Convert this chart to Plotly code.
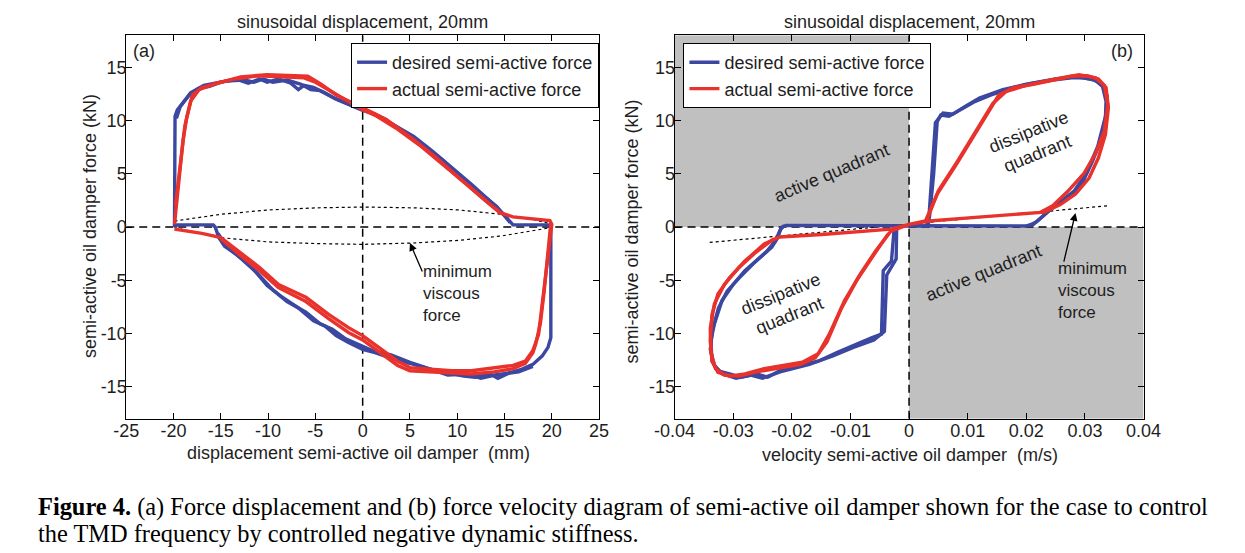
import plotly.graph_objects as go

# ---------------- data ----------------
series_names = ["desired semi-active force", "actual semi-active force"]
panel_title = "sinusoidal displacement, 20mm"

# (a) force - displacement, desired (blue), cycle 1
a_blue_x = [-19.9, -19.85, -19.84, -19.6, -19.0, -18.4, -17.4, -16.2, -15.0, -13.3, -12.1, -10.9, -10.1, -8.9, -7.6, -6.8, -6.2, -5.2, -4.0, -2.8, -1.5, 0.0, 1.3, 3.3, 5.4, 7.4, 9.4, 11.5, 13.5, 14.9, 15.9, 19.6, 19.9, 19.92, 19.9, 19.6, 19.0, 18.0, 16.7, 15.5, 14.3, 13.5, 11.9, 10.7, 9.4, 7.8, 5.4, 3.3, 1.3, 0.0, -1.5, -2.8, -4.0, -5.2, -6.8, -8.5, -10.1, -11.7, -13.3, -14.6, -15.2, -15.6, -15.8, -19.6, -19.9]
a_blue_y = [0.0, 5.0, 10.4, 11.0, 11.7, 12.3, 13.0, 13.2, 13.6, 13.85, 13.5, 13.9, 13.6, 13.9, 13.5, 12.9, 13.3, 13.1, 12.6, 12.0, 11.5, 10.95, 10.6, 9.6, 8.5, 7.1, 5.6, 4.0, 2.4, 1.2, 0.2, 0.2, 0.0, -5.0, -10.4, -11.3, -12.1, -12.9, -13.4, -13.7, -14.2, -13.8, -14.1, -14.0, -13.8, -13.5, -12.9, -12.4, -11.8, -11.5, -10.85, -10.2, -9.3, -8.8, -7.6, -6.6, -5.5, -3.8, -2.6, -1.8, -1.0, 0.0, 0.2, 0.2, 0.0]
# (a) desired, further cycles (upper and lower branches)
a_blue2_x = [-19.7, -19.3, -18.2, -16.8, -14.5, -12.5, -11.5, -10.5, -9.5, -8.0, -6.5, -5.5, -4.5, -3.0, -1.0, 0.5, 2.2, 4.3, 6.3, 8.3, 10.3, 12.3, 14.2, 15.6, None,
             18.0, 16.5, 14.0, 12.5, 11.0, 9.0, 7.0, 5.0, 3.0, 1.0, 0.0, -1.8, -3.2, -4.5, -6.0, -8.0, -9.5, -11.2, -12.8, -14.3, -15.3]
a_blue2_y = [10.2, 11.3, 12.6, 13.3, 13.7, 13.8, 13.6, 13.9, 13.6, 13.8, 13.4, 12.9, 12.8, 12.1, 11.4, 10.9, 10.2, 9.0, 7.7, 6.4, 4.8, 3.3, 1.9, 0.4, None,
             -13.1, -13.6, -13.9, -14.2, -13.8, -13.9, -13.3, -12.7, -12.0, -11.6, -11.2, -10.5, -9.6, -9.1, -8.0, -7.0, -5.9, -4.3, -3.0, -1.9, -0.6]

# (a) actual (red), cycle 1
a_red_x = [-19.9, -19.4, -19.0, -18.6, -18.0, -17.0, -15.0, -12.9, -10.1, -6.8, -5.8, -4.4, -2.8, 0.0, 2.5, 5.4, 7.8, 10.2, 12.7, 14.5, 15.9, 19.8, 20.0, 19.8, 19.4, 19.0, 18.6, 18.0, 17.2, 15.9, 13.9, 11.5, 9.4, 7.4, 5.0, 3.7, 2.5, 1.3, 0.0, -1.5, -3.6, -6.0, -8.9, -10.9, -12.9, -15.0, -17.0, -19.9]
a_red_y = [0.25, 4.9, 8.1, 10.3, 12.4, 13.1, 13.6, 14.1, 14.3, 14.2, 14.15, 13.4, 12.4, 11.2, 10.1, 8.2, 6.5, 4.6, 2.75, 1.35, 0.95, 0.6, 0.25, -1.3, -4.4, -7.6, -10.1, -11.6, -12.6, -13.0, -13.2, -13.5, -13.5, -13.35, -13.2, -12.6, -11.8, -11.0, -10.2, -9.45, -8.2, -6.6, -5.4, -3.8, -2.4, -1.0, -0.6, -0.2]
# (a) actual, further cycles
a_red2_x = [-19.8, -19.3, -18.8, -18.2, -17.3, -15.5, -13.5, -11.0, -8.5, -6.2, -5.0, -3.5, -1.5, 0.0, 1.5, 3.5, 6.0, 8.5, 11.0, 13.2, 14.8, None,
            19.9, 19.6, 19.2, 18.8, 18.3, 18.0, 17.2, 15.9, 13.9, 11.5, 9.4, 7.4, 5.0, 3.7, 2.5, 1.3, 0.0, -1.5, -3.6, -6.0, -8.9, -10.9, -12.9, -15.0]
a_red2_y = [2.0, 6.0, 9.5, 11.8, 12.9, 13.5, 13.9, 14.2, 14.1, 14.0, 13.6, 12.8, 11.8, 11.0, 10.4, 9.3, 7.7, 5.9, 4.0, 2.3, 1.2, None,
            0.4, -2.5, -6.0, -9.0, -11.0, -11.8, -12.8, -13.3, -13.6, -13.8, -13.7, -13.6, -13.5, -13.0, -12.2, -11.4, -10.6, -9.9, -8.6, -7.0, -5.7, -4.1, -2.7, -1.1]

# (a) minimum viscous force (dotted ellipse)
a_visc_x = [-19.9, -15.0, -10.0, -4.8, 0.0, 5.4, 10.2, 14.7, 17.6, 19.9, None, -19.9, -15.0, -10.0, -4.8, 0.0, 5.4, 10.2, 14.7, 19.9]
a_visc_y = [0.56, 1.19, 1.6, 1.8, 1.875, 1.8, 1.6, 1.19, 0.8, 0.3, None, -0.06, -1.0, -1.4, -1.56, -1.63, -1.5, -1.25, -0.84, -0.06]

# (b) force - velocity, desired (blue), cycle 1
b_blue_x = [-0.0025, 0.003, 0.0035, 0.0042, 0.0048, 0.0054, 0.0068, 0.0087, 0.0113, 0.014, 0.0179, 0.0212, 0.0245, 0.0277, 0.0297, 0.0317, 0.033, 0.0336, 0.0335, 0.0327, 0.0313, 0.0297, 0.0277, 0.0251, 0.0231, 0.0212, 0.0199, 0.0, -0.021, -0.0218, -0.0224, -0.0234, -0.0254, -0.028, -0.03, -0.0319, -0.0332, -0.0338, -0.0336, -0.0326, -0.0306, -0.0287, -0.026, -0.0241, -0.0214, -0.0188, -0.0155, -0.0123, -0.009, -0.0064, -0.0047, -0.0044, -0.003, -0.0025]
b_blue_y = [0.1, 0.1, 1.0, 5.0, 9.9, 10.5, 10.4, 11.0, 11.8, 12.4, 13.1, 13.5, 13.8, 14.0, 14.0, 13.8, 13.2, 11.8, 10.25, 8.1, 6.2, 4.3, 2.9, 2.1, 1.2, 0.25, 0.1, 0.1, 0.15, -0.05, -1.0, -1.9, -2.9, -4.1, -5.4, -6.9, -9.1, -10.7, -12.6, -13.5, -13.8, -14.1, -13.8, -14.1, -13.3, -13.0, -12.6, -11.8, -11.0, -10.4, -10.06, -4.1, -3.2, 0.1]
# (b) desired, further cycles
b_blue2_x = [-0.0021, -0.0022, -0.0038, -0.0042, -0.006, -0.0095, -0.013, -0.017, -0.022, -0.025, -0.027, -0.0295, -0.0318, -0.0332, -0.0339, -0.0335, -0.0325, -0.031, -0.029, -0.0265, -0.0243, -0.0228, -0.022, -0.0213, None,
             0.0033, 0.0045, 0.0058, 0.0075, 0.0095, 0.012, 0.016, 0.02, 0.025, 0.0285, 0.031, 0.0328, 0.0338, 0.0336, 0.0322, 0.0302, 0.0282, 0.0258, 0.0238, 0.0218, 0.0205]
b_blue2_y = [0.1, -3.0, -4.5, -9.8, -10.6, -11.3, -12.1, -12.9, -13.6, -14.2, -13.9, -14.2, -13.8, -13.0, -11.5, -9.6, -7.6, -6.0, -4.8, -3.4, -2.3, -1.3, -0.3, 0.15, None,
             0.15, 9.8, 10.7, 10.6, 11.3, 12.1, 12.9, 13.4, 13.9, 14.1, 13.9, 13.5, 12.3, 10.6, 7.6, 5.0, 3.4, 2.4, 1.5, 0.5, 0.15]

# (b) actual (red), cycle 1
b_red_x = [0.0028, 0.0048, 0.0081, 0.0113, 0.014, 0.0153, 0.0179, 0.0212, 0.0245, 0.0277, 0.0304, 0.0323, 0.0336, 0.034, 0.0335, 0.0323, 0.0307, 0.0284, 0.0258, 0.0231, 0.0113, 0.0035, 0.0, -0.0031, -0.0149, -0.0221, -0.0247, -0.028, -0.0306, -0.0326, -0.0336, -0.0339, -0.0336, -0.0326, -0.0306, -0.028, -0.0247, -0.0214, -0.0182, -0.0155, -0.0136, -0.011, -0.0083, -0.0057, -0.0031, 0.0, 0.0028]
b_red_y = [0.56, 3.1, 5.9, 8.7, 11.2, 12.4, 13.1, 13.4, 13.8, 14.15, 14.2, 13.9, 13.1, 11.2, 8.7, 6.5, 4.6, 3.1, 2.1, 1.4, 0.9, 0.56, 0.25, -0.2, -0.7, -0.94, -1.6, -3.2, -4.75, -6.3, -8.2, -10.7, -12.6, -13.65, -14.0, -13.8, -13.3, -13.0, -12.7, -11.9, -10.06, -6.9, -4.4, -2.25, -0.4, 0.25, 0.56]
# (b) actual, further cycles
b_red2_x = [0.003, 0.005, 0.0083, 0.0115, 0.0143, 0.0165, 0.02, 0.025, 0.029, 0.0318, 0.0333, 0.0339, 0.0333, 0.0318, 0.0298, 0.027, 0.0245, 0.0225, None,
            -0.023, -0.0262, -0.029, -0.0315, -0.0332, -0.0339, -0.0338, -0.033, -0.0315, -0.029, -0.026, -0.022, -0.0185, -0.016, -0.014, -0.0115, -0.0088, -0.006, -0.0035]
b_red2_y = [0.6, 3.4, 6.2, 9.0, 11.6, 12.7, 13.3, 13.9, 14.3, 14.0, 13.3, 11.5, 9.0, 6.9, 5.0, 3.3, 2.0, 1.4, None,
            -1.1, -2.4, -3.8, -5.4, -7.2, -9.5, -11.8, -13.3, -13.9, -14.0, -13.6, -13.2, -12.9, -12.3, -10.8, -7.6, -4.9, -2.6, -0.6]

# (b) minimum viscous force (dotted)
b_visc_x = [-0.034, -0.02, 0.0, 0.02, 0.034]
b_visc_y = [-1.45, -0.75, 0.25, 1.25, 2.0]

# ticks
a_xticks = [-25, -20, -15, -10, -5, 0, 5, 10, 15, 20, 25]
a_xticktext = ["-25", "-20", "-15", "-10", "-5", "0", "5", "10", "15", "20", "25"]
b_xticks = [-0.04, -0.03, -0.02, -0.01, 0.0, 0.01, 0.02, 0.03, 0.04]
b_xticktext = ["-0.04", "-0.03", "-0.02", "-0.01", "0", "0.01", "0.02", "0.03", "0.04"]
yticks = [-15, -10, -5, 0, 5, 10, 15]
yticktext = ["-15", "-10", "-5", "0", "5", "10", "15"]

# ---------------- style ----------------
BLUE = "#3B47A0"
RED = "#E8322B"
GREY = "#C0C0C0"
TXT = "#1e1e1e"
SANS = "Liberation Sans, Arial, sans-serif"
SERIF = "Liberation Serif, Times New Roman, serif"
W, H = 1245, 553

fig = go.Figure()

def line(x, y, color, xa, ya, name=None, show=False, legend="legend", width=3.4):
    fig.add_trace(go.Scatter(x=x, y=y, mode="lines", name=name, showlegend=show,
                             legend=legend, xaxis=xa, yaxis=ya,
                             line=dict(color=color, width=width), hoverinfo="skip"))

# panel (a)
fig.add_trace(go.Scatter(x=a_visc_x, y=a_visc_y, mode="lines", showlegend=False, xaxis="x", yaxis="y",
                         line=dict(color="black", width=1.2, dash="dot"), hoverinfo="skip"))
line(a_blue_x, a_blue_y, BLUE, "x", "y", series_names[0], True, "legend")
line(a_blue2_x, a_blue2_y, BLUE, "x", "y")
line(a_red_x, a_red_y, RED, "x", "y", series_names[1], True, "legend")
line(a_red2_x, a_red2_y, RED, "x", "y")

# panel (b)
fig.add_trace(go.Scatter(x=b_visc_x, y=b_visc_y, mode="lines", showlegend=False, xaxis="x2", yaxis="y2",
                         line=dict(color="black", width=1.2, dash="dot"), hoverinfo="skip"))
line(b_blue_x, b_blue_y, BLUE, "x2", "y2", series_names[0], True, "legend2")
line(b_blue2_x, b_blue2_y, BLUE, "x2", "y2")
line(b_red_x, b_red_y, RED, "x2", "y2", series_names[1], True, "legend2")
line(b_red2_x, b_red2_y, RED, "x2", "y2")

def px2paper_x(p):
    return p / W

def px2paper_y(p):
    return 1 - p / H

axis_common = dict(showgrid=False, zeroline=False, showline=True, linecolor="black", linewidth=1,
                   mirror="ticks", ticks="inside", ticklen=6, tickcolor="black",
                   tickfont=dict(family=SANS, size=18, color=TXT))

ydom = [px2paper_y(410.7), px2paper_y(27.3)]
legend_common = dict(xanchor="left", yanchor="top", bgcolor="white", bordercolor="black", borderwidth=1,
                     font=dict(family=SANS, size=18, color=TXT), tracegroupgap=0, itemwidth=30)
fig.update_layout(
    width=W, height=H,
    margin=dict(l=0, r=0, t=0, b=0),
    paper_bgcolor="white", plot_bgcolor="white",
    xaxis=dict(domain=[px2paper_x(100.4), px2paper_x(588.5)], range=[-25, 25], ticklabelstandoff=-4,
               tickvals=a_xticks, ticktext=a_xticktext, anchor="y", **axis_common),
    yaxis=dict(domain=ydom, range=[-18, 18], tickvals=yticks, ticktext=yticktext, anchor="x",
               ticklabelstandoff=-5, **axis_common),
    xaxis2=dict(domain=[px2paper_x(666.4), px2paper_x(1150.6)], range=[-0.04, 0.04], ticklabelstandoff=-4,
                tickvals=b_xticks, ticktext=b_xticktext, anchor="y2", **axis_common),
    yaxis2=dict(domain=ydom, range=[-18, 18], tickvals=yticks, ticktext=yticktext, anchor="x2",
                ticklabelstandoff=-5, **axis_common),
    legend=dict(x=px2paper_x(332.5), y=px2paper_y(35), **legend_common),
    legend2=dict(x=px2paper_x(675.6), y=px2paper_y(35), **legend_common),
)

# shaded active quadrants and dashed zero lines
shapes = [
    dict(type="rect", xref="x2", yref="y2", x0=-0.04, x1=0, y0=0, y1=18, fillcolor=GREY, line=dict(width=0), layer="below"),
    dict(type="rect", xref="x2", yref="y2", x0=0, x1=0.04, y0=-18, y1=0, fillcolor=GREY, line=dict(width=0), layer="below"),
]
for xr, yr, xlo, xhi in [("x", "y", -25, 25), ("x2", "y2", -0.04, 0.04)]:
    shapes.append(dict(type="line", xref=xr, yref=yr, x0=0, x1=0, y0=-18, y1=18, layer="below",
                       line=dict(color="black", width=1.5, dash="8px,5px")))
    shapes.append(dict(type="line", xref=xr, yref=yr, x0=xlo, x1=xhi, y0=0, y1=0, layer="below",
                       line=dict(color="black", width=1.5, dash="8px,5px")))
fig.update_layout(shapes=shapes)

ann = []
def text(x, y, s, xref="paper", yref="paper", size=18, angle=0, xanchor="center", yanchor="middle",
         family=SANS, color=TXT, align="center"):
    ann.append(dict(x=x, y=y, xref=xref, yref=yref, text=s, showarrow=False, textangle=angle, align=align,
                    xanchor=xanchor, yanchor=yanchor, font=dict(family=family, size=size, color=color)))

# titles and axis titles
text(px2paper_x(344.4), px2paper_y(14), panel_title)
text(px2paper_x(908.5), px2paper_y(14), panel_title)
text(px2paper_x(340), px2paper_y(445), "displacement semi-active oil damper  (mm)")
text(px2paper_x(910), px2paper_y(447), "velocity semi-active oil damper  (m/s)")
text(px2paper_x(63), px2paper_y(218), "semi-active oil damper force (kN)", angle=-90)
text(px2paper_x(622), px2paper_y(224), "semi-active oil damper force (kN)", angle=-90)

# panel labels
text(-23.1, 16.5, "(a)", "x", "y")
text(0.0364, 16.5, "(b)", "x2", "y2")

# panel (a) annotation
text(6.2, -6.25, "minimum<br>viscous<br>force", "x", "y", size=17, xanchor="left", align="left")
ann.append(dict(x=5.0, y=-1.5, xref="x", yref="y", ax=13, ay=30, text="", showarrow=True,
                arrowhead=2, arrowsize=1.2, arrowwidth=1.3, arrowcolor="black"))

# panel (b) annotations
text(-0.01325, 5.07, "active quadrant", "x2", "y2", angle=-23)
text(0.01264, -4.3, "active quadrant", "x2", "y2", angle=-22)
text(0.0212, 7.9, "dissipative<br>quadrant", "x2", "y2", angle=-22)
text(-0.0211, -7.3, "dissipative<br>quadrant", "x2", "y2", angle=-22)
text(0.0251, -6.0, "minimum<br>viscous<br>force", "x2", "y2", size=17, xanchor="left", align="left")
ann.append(dict(x=0.02839, y=1.31, xref="x2", yref="y2", ax=-12, ay=50, text="", showarrow=True,
                arrowhead=2, arrowsize=1.2, arrowwidth=1.3, arrowcolor="black"))

# caption
text(px2paper_x(7), px2paper_y(499),
     "<b>Figure 4.</b> (a) Force displacement and (b) force velocity diagram of semi-active oil damper shown for the case to control",
     size=24.4, xanchor="left", family=SERIF, color="black")
text(px2paper_x(7), px2paper_y(525),
     "the TMD frequency by controlled negative dynamic stiffness.",
     size=24.4, xanchor="left", family=SERIF, color="black")

fig.update_layout(annotations=ann)
fig.write_html("out.html")
